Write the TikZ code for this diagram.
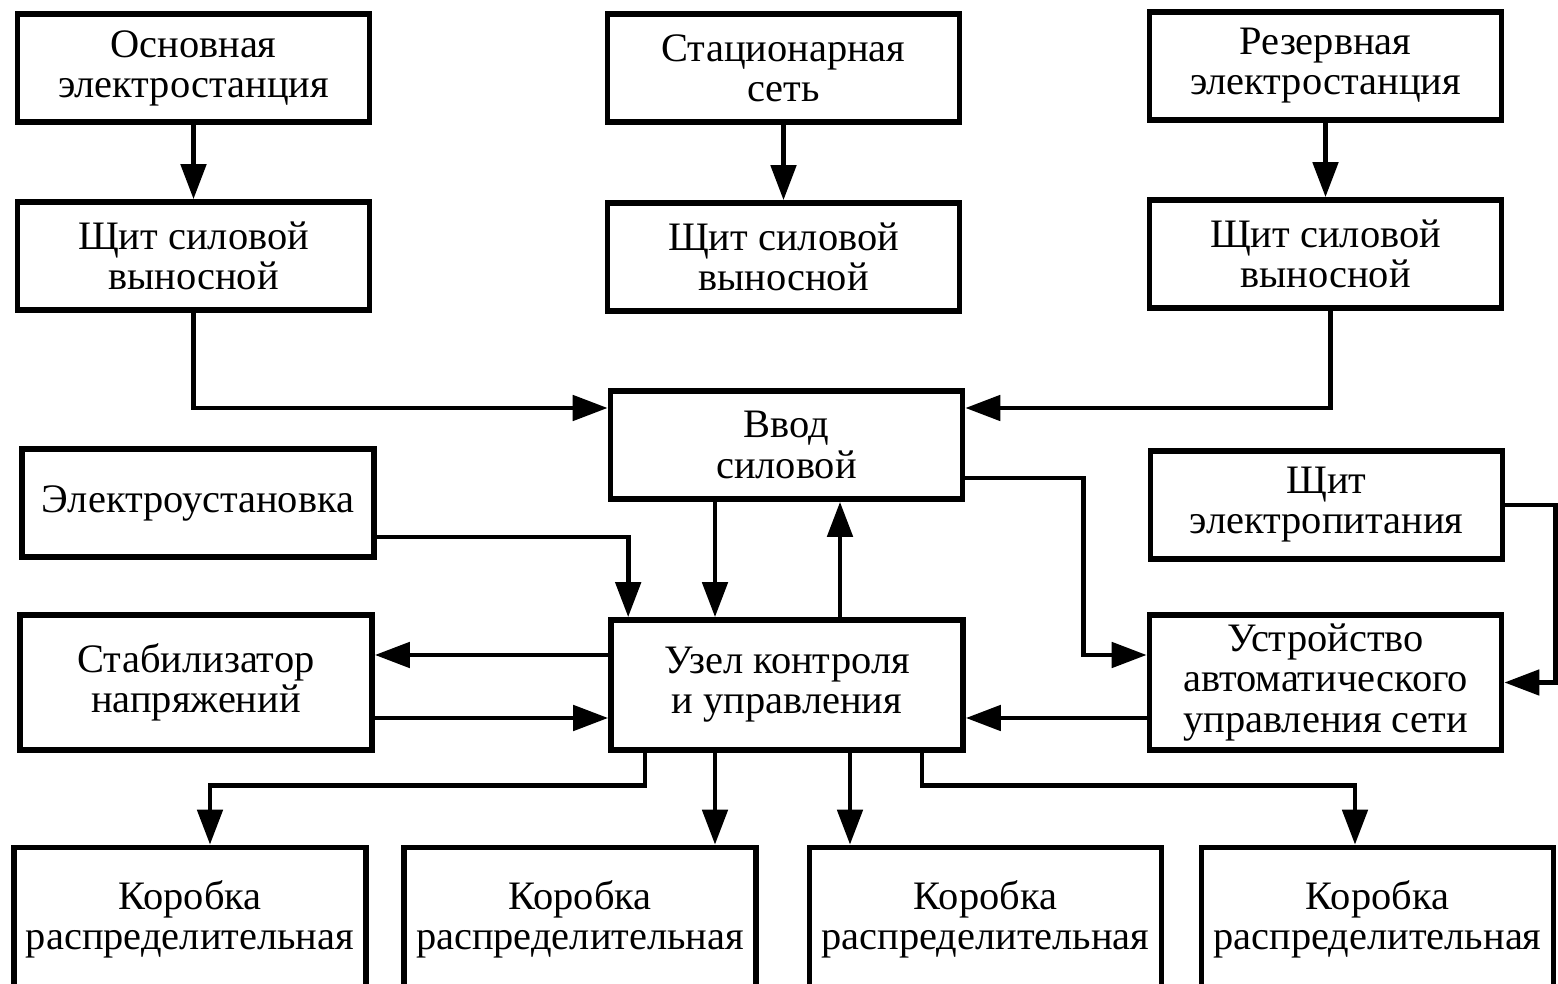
\documentclass[tikz,border=0pt]{standalone}
\usepackage{fontspec}
\setmainfont{Liberation Serif}
\usepackage{tikz}
\usetikzlibrary{calc,arrows.meta}
\tikzset{
blok/.style={draw, line width=3.2pt, minimum width=7.04cm, minimum height=2.16cm,
  inner sep=0pt, align=center, font=\fontsize{23}{22.8}\selectfont},
pil/.style={line width=2.8pt, -{Triangle[length=7mm,width=5mm]}}
}

\begin{document}
\begin{tikzpicture}
\useasboundingbox (0,0) rectangle (31.16,19.68);
\node[blok] at (3.87, 18.32) (osn) {Основная\\электростанция};
\node[blok] at (15.67, 18.32) (stac) {Стационарная\\сеть};
\node[blok] at (26.51, 18.36) (rez) {Резервная\\электростанция};
\node[blok] at (3.87, 14.56) (shl) {Щит силовой\\выносной};
\node[blok] at (15.67, 14.54) (shm) {Щит силовой\\выносной};
\node[blok] at (26.51, 14.6) (shr) {Щит силовой\\выносной};
\node[blok] at (15.73, 10.78) (vvod) {Ввод\\силовой};
\node[blok] at (3.96, 9.62) (ustan) {Электроустановка};
\node[blok] at (26.53, 9.58) (shpit) {Щит\\электропитания};
\node[blok, minimum height=2.7cm] at (3.92, 6.03) (stab) {Стабилизатор\\напряжений};
\node[blok, minimum height=2.6cm] at (15.74, 5.98) (uzel) {Узел контроля\\и управления};
\node[blok, minimum height=2.7cm] at (26.51, 6.03) (avt) {Устройство\\автоматического\\управления сети};
\node[blok, minimum height=2.86cm] at (3.8, 1.3) (kor1) {Коробка\\распределительная};
\node[blok, minimum height=2.86cm] at (11.6, 1.3) (kor2) {Коробка\\распределительная};
\node[blok, minimum height=2.86cm] at (19.71, 1.3) (kor3) {Коробка\\распределительная};
\node[blok, minimum height=2.86cm] at (27.55, 1.3) (kor4) {Коробка\\распределительная};
\draw[pil] (osn) -- (shl);
\draw[pil] (stac) -- (shm);
\draw[pil] (rez) -- (shr);
\draw[pil] (shl.south) |- ([yshift=7.4mm]vvod.west);
\draw[pil] ([xshift=1mm]shr.south) |- ([yshift=7.4mm]vvod.east);
\draw[pil] ([yshift=-6.8mm]ustan.east) -| ([xshift=4mm]uzel.north west);
\draw[pil] ([xshift=-1.43cm]vvod.south) -- ([xshift=-1.43cm]vvod.south |- uzel.north);
\draw[pil] ([xshift=1.06cm]uzel.north) -- ([xshift=1.06cm]uzel.north |- vvod.south);
\draw[pil] ([yshift=-6.6mm]vvod.east) -- ++(2.36,0) |- ([yshift=5.5mm]avt.west);
\draw[pil] (shpit.east) -- ++(1.0,0) |- (avt.east);
\draw[pil] ([yshift=-7.1mm]avt.west) -- ([yshift=-7.1mm]avt.west -| uzel.east);
\draw[pil] ([yshift=6mm]uzel.west) -- ([yshift=6mm]uzel.west -| stab.east);
\draw[pil] ([yshift=-7.1mm]stab.east) -- ([yshift=-7.1mm]stab.east -| uzel.west);
\draw[pil] ([xshift=-2.84cm]uzel.south) -- ++(0,-0.66) -| ([xshift=4mm]kor1.north);
\draw[pil] ([xshift=-1.44cm]uzel.south) -- ([xshift=-1.44cm]uzel.south |- kor2.north);
\draw[pil] ([xshift=1.26cm]uzel.south) -- ([xshift=1.26cm]uzel.south |- kor3.north);
\draw[pil] ([xshift=2.7cm]uzel.south) -- ++(0,-0.66) -| ([xshift=-4.5mm]kor4.north);
\end{tikzpicture}
\end{document}
